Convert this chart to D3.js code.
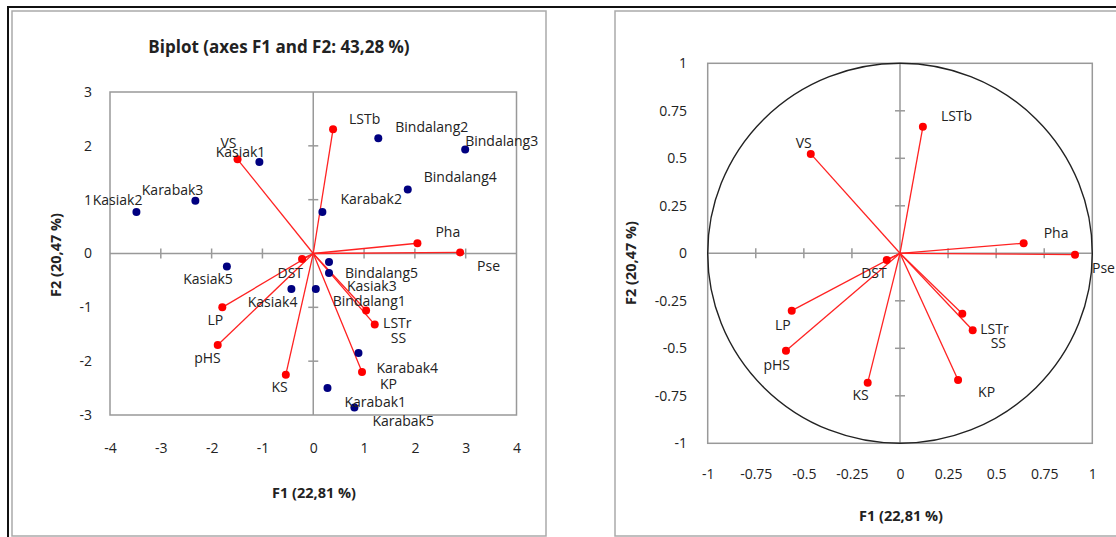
<!DOCTYPE html>
<html>
<head>
<meta charset="utf-8">
<script src="https://cdn.jsdelivr.net/npm/d3@7/dist/d3.min.js"></script>
<style>
  body { margin:0; background:#fff; }
  svg text { font-family:"Open Sans", "Noto Sans", sans-serif; fill:#222; }
</style>
</head>
<body>
<svg id="chart" width="1116" height="537"></svg>
<script>
// observations (blue dots) on the biplot
let obsNames = ["Kasiak1","Kasiak2","Kasiak3","Kasiak4","Kasiak5",
                "Karabak1","Karabak2","Karabak3","Karabak4","Karabak5",
                "Bindalang1","Bindalang2","Bindalang3","Bindalang4","Bindalang5"];
let obsF1 = [-1.06,-3.48,0.31,-0.43,-1.70, 0.28,0.18,-2.32,0.89,0.81, 0.05,1.28,2.99,1.86,0.31];
let obsF2 = [1.70,0.77,-0.36,-0.66,-0.24, -2.50,0.77,0.98,-1.85,-2.86, -0.66,2.14,1.93,1.19,-0.16];

// variables (red vectors)
let varNames = ["VS","LSTb","Pha","Pse","DST","LP","pHS","KS","KP","LSTr","SS"];
let varF1Biplot = [-1.49,0.39,2.05,2.89,-0.22,-1.79,-1.88,-0.54,0.96,1.04,1.21];
let varF2Biplot = [1.75,2.31,0.19,0.02,-0.10,-1.00,-1.70,-2.25,-2.20,-1.06,-1.32];
let varF1Circle = [-0.464,0.119,0.643,0.910,-0.069,-0.563,-0.593,-0.168,0.302,0.324,0.378];
let varF2Circle = [0.523,0.666,0.053,-0.007,-0.035,-0.302,-0.513,-0.681,-0.667,-0.318,-0.405];

// tick labels
let xTicksLeft = [-4,-3,-2,-1,0,1,2,3,4];
let yTicksLeft = [-3,-2,-1,0,1,2,3];
let xTicksRight = [-1,-0.75,-0.5,-0.25,0,0.25,0.5,0.75,1];
let yTicksRight = [-1,-0.75,-0.5,-0.25,0,0.25,0.5,0.75,1];

let titleText = "Biplot (axes F1 and F2: 43,28 %)";
let xTitle = "F1 (22,81 %)";
let yTitle = "F2 (20,47 %)";

// label placement: [anchor, dx, dy]
let obsLabelPos = [["end",6,-10],["end",6,-12],["start",18,13],["end",6,13],["end",6,13],
                   ["start",17,14],["start",18,-13],["end",8,-11],["start",18,15],["start",18,14],
                   ["start",17,12],["start",17,-11],["start",0,-9],["start",16,-12],["start",16,11]];
let varLabelPosL = [["end",-1,-16],["start",16,-10],["start",18,-11],["start",17,14],["end",1,14],
                    ["end",1,13],["end",3,13],["end",2,12],["start",18,12],["start",17,13],["start",16,14]];
let varLabelPosR = [["end",1,-11],["start",18,-11],["start",20,-10],["start",17,13],["end",0,13],
                    ["end",-1,14],["end",4,14],["end",1,12],["start",20,12],["start",18,15],["start",18,13]];

let svg = d3.select("#chart");
let fmt = function(d){ return String(d); };

// outer frames
svg.append("line").attr("x1",7).attr("x2",1116).attr("y1",7).attr("y2",7)
  .attr("stroke","#111").attr("stroke-width",2);
svg.append("line").attr("x1",8).attr("x2",8).attr("y1",7).attr("y2",537)
  .attr("stroke","#111").attr("stroke-width",2);
svg.append("rect").attr("x",12).attr("y",11).attr("width",534).attr("height",525)
  .attr("fill","none").attr("stroke","#aaa").attr("stroke-width",1.5);
svg.append("rect").attr("x",615).attr("y",11).attr("width",520).attr("height",525)
  .attr("fill","none").attr("stroke","#aaa").attr("stroke-width",1.5);

function drawPanel(opt){
  let x = d3.scaleLinear().domain(opt.xDomain).range(opt.xRange);
  let y = d3.scaleLinear().domain(opt.yDomain).range(opt.yRange);
  let g = svg.append("g");

  g.append("rect")
    .attr("x",x.range()[0]).attr("y",y.range()[1])
    .attr("width",x.range()[1]-x.range()[0]).attr("height",y.range()[0]-y.range()[1])
    .attr("fill","none").attr("stroke","#999").attr("stroke-width",1.5);

  // zero lines
  g.append("line").attr("x1",x.range()[0]).attr("x2",x.range()[1])
    .attr("y1",y(0)).attr("y2",y(0)).attr("stroke","#999").attr("stroke-width",1.5);
  g.append("line").attr("x1",x(0)).attr("x2",x(0))
    .attr("y1",y.range()[0]).attr("y2",y.range()[1]).attr("stroke","#999").attr("stroke-width",1.5);

  // small cross ticks on the zero lines
  g.selectAll("line.xt").data(opt.xTicks.filter(function(d){return d>opt.xDomain[0] && d<opt.xDomain[1] && d!=0;}))
    .enter().append("line").attr("class","xt")
    .attr("x1",function(d){return x(d);}).attr("x2",function(d){return x(d);})
    .attr("y1",y(0)-5).attr("y2",y(0)+5).attr("stroke","#999").attr("stroke-width",1.5);
  g.selectAll("line.yt").data(opt.yTicks.filter(function(d){return d>opt.yDomain[0] && d<opt.yDomain[1] && d!=0;}))
    .enter().append("line").attr("class","yt")
    .attr("y1",function(d){return y(d);}).attr("y2",function(d){return y(d);})
    .attr("x1",x(0)-5).attr("x2",x(0)+5).attr("stroke","#999").attr("stroke-width",1.5);

  // tick labels
  let ax = g.append("g").attr("transform","translate(0,"+opt.xLabelY+")")
    .call(d3.axisBottom(x).tickValues(opt.xTicks).tickSize(0).tickPadding(0).tickFormat(fmt));
  let ay = g.append("g").attr("transform","translate("+opt.yLabelX+",0)")
    .call(d3.axisLeft(y).tickValues(opt.yTicks).tickSize(0).tickPadding(0).tickFormat(fmt));
  [ax,ay].forEach(function(a){
    a.select(".domain").remove();
    a.attr("font-family",null).attr("font-size",null);
    a.selectAll("text").style("font-size","14px").style("fill","#222");
  });

  if (opt.circle) {
    g.append("ellipse").attr("cx",x(0)).attr("cy",y(0))
      .attr("rx",x(1)-x(0)).attr("ry",y(0)-y(1))
      .attr("fill","none").attr("stroke","#222").attr("stroke-width",1.4);
  }

  // variable vectors
  g.selectAll("line.vec").data(varNames).enter().append("line").attr("class","vec")
    .attr("x1",x(0)).attr("y1",y(0))
    .attr("x2",function(d,i){return x(opt.vx[i]);})
    .attr("y2",function(d,i){return y(opt.vy[i]);})
    .attr("stroke","#f22").attr("stroke-width",1.3);

  if (opt.obs) {
    g.selectAll("circle.obs").data(obsNames).enter().append("circle").attr("class","obs")
      .attr("cx",function(d,i){return x(obsF1[i]);})
      .attr("cy",function(d,i){return y(obsF2[i]);})
      .attr("r",4).attr("fill","#000080");
  }
  g.selectAll("circle.var").data(varNames).enter().append("circle").attr("class","var")
    .attr("cx",function(d,i){return x(opt.vx[i]);})
    .attr("cy",function(d,i){return y(opt.vy[i]);})
    .attr("r",4).attr("fill","#f00");

  // labels
  function addLabels(names, xs, ys, pos){
    g.selectAll(null).data(names).enter().append("text")
      .attr("x",function(d,i){return x(xs[i])+pos[i][1];})
      .attr("y",function(d,i){return y(ys[i])+pos[i][2];})
      .attr("dy","0.35em")
      .attr("text-anchor",function(d,i){return pos[i][0];})
      .style("font-size","14px")
      .text(function(d){return d;});
  }
  addLabels(varNames, opt.vx, opt.vy, opt.varPos);
  if (opt.obs) addLabels(obsNames, obsF1, obsF2, obsLabelPos);

  // axis titles
  g.append("text").attr("x",opt.xTitleAt[0]).attr("y",opt.xTitleAt[1]).attr("dy","0.35em")
    .attr("text-anchor","middle").style("font-size","14.5px").style("font-weight","bold").text(xTitle);
  g.append("text").attr("transform","translate("+opt.yTitleAt[0]+","+opt.yTitleAt[1]+") rotate(-90)")
    .attr("dy","0.35em").attr("text-anchor","middle")
    .style("font-size","14.5px").style("font-weight","bold").text(yTitle);
}

drawPanel({
  xDomain:[-4,4], xRange:[110,516.5], yDomain:[-3,3], yRange:[415,92],
  xTicks:xTicksLeft, yTicks:yTicksLeft, xLabelY:443, yLabelX:92,
  vx:varF1Biplot, vy:varF2Biplot, varPos:varLabelPosL, obs:true, circle:false,
  xTitleAt:[314,493], yTitleAt:[56,255]
});

drawPanel({
  xDomain:[-1,1], xRange:[707.7,1092.3], yDomain:[-1,1], yRange:[443.3,63.3],
  xTicks:xTicksRight, yTicks:yTicksRight, xLabelY:469, yLabelX:687,
  vx:varF1Circle, vy:varF2Circle, varPos:varLabelPosR, obs:false, circle:true,
  xTitleAt:[901,516], yTitleAt:[631,263]
});

svg.append("text").attr("x",279).attr("y",47).attr("dy","0.35em").attr("text-anchor","middle")
  .style("font-size","17px").style("font-weight","bold").text(titleText);
</script>
</body>
</html>
